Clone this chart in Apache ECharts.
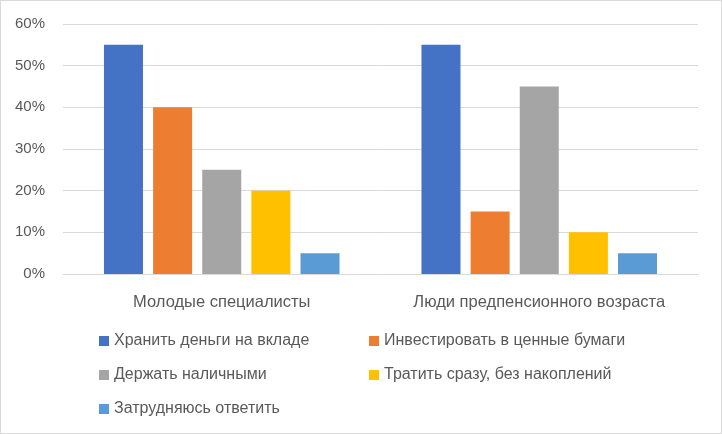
<!DOCTYPE html>
<html>
<head>
<meta charset="utf-8">
<script src="https://cdn.jsdelivr.net/npm/echarts@6/dist/echarts.min.js"></script>
<style>
  html, body { margin: 0; padding: 0; background: #fff; }
  #chart { width: 722px; height: 434px; box-sizing: border-box; border: 1px solid #d9d9d9; }
</style>
</head>
<body>
<div id="chart"></div>
<script>
const categories = ['Молодые специалисты', 'Люди предпенсионного возраста'];
const seriesNames = [
  'Хранить деньги на вкладе',
  'Инвестировать в ценные бумаги',
  'Держать наличными',
  'Тратить сразу, без накоплений',
  'Затрудняюсь ответить'
];
const seriesValues = [
  [55, 55],
  [40, 15],
  [25, 45],
  [20, 10],
  [5, 5]
];
const colors = ['#4472C4', '#ED7D31', '#A5A5A5', '#FFC000', '#5B9BD5'];

const font = 'Liberation Sans';
const textColor = '#595959';

const chart = echarts.init(document.getElementById('chart'), null, { renderer: 'canvas' });

const legendText = { fontFamily: font, fontSize: 16, color: textColor };

const option = {
  animation: false,
  color: colors,
  grid: { left: 62, right: 23, top: 23, bottom: 159 },
  legend: [
    {
      data: [seriesNames[0], seriesNames[2], seriesNames[4]],
      orient: 'vertical', left: 93, top: 327,
      icon: 'rect', itemWidth: 10, itemHeight: 10, itemGap: 18,
      textStyle: legendText
    },
    {
      data: [seriesNames[1], seriesNames[3]],
      orient: 'vertical', left: 363, top: 327,
      icon: 'rect', itemWidth: 10, itemHeight: 10, itemGap: 18,
      textStyle: legendText
    }
  ],
  xAxis: {
    type: 'category',
    data: categories,
    axisLine: { lineStyle: { color: '#d9d9d9', width: 1 } },
    axisTick: { show: false },
    axisLabel: { interval: 0, fontFamily: font, fontSize: 16.5, color: textColor, margin: 20 }
  },
  yAxis: {
    type: 'value',
    min: 0, max: 60, interval: 10,
    axisLine: { show: false },
    axisTick: { show: false },
    splitLine: { lineStyle: { color: '#d9d9d9', width: 1 } },
    axisLabel: { fontFamily: font, fontSize: 15, color: textColor, margin: 18, formatter: '{value}%' }
  },
  series: seriesNames.map((name, i) => ({
    name: name,
    type: 'bar',
    data: seriesValues[i],
    barWidth: 39,
    barGap: '26%'
  }))
};

chart.setOption(option);
</script>
</body>
</html>
